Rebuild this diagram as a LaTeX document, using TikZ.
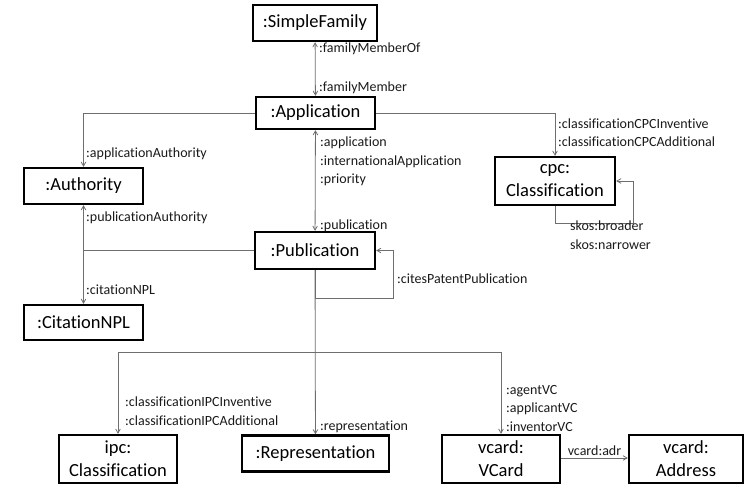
\documentclass[tikz,border=0pt]{standalone}
\usepackage{fontspec}
\setmainfont{Carlito}[RawFeature=-liga]
\usetikzlibrary{positioning}
\usetikzlibrary{arrows}
\definecolor{line-grey}{HTML}{6E6E6E}
\definecolor{text-grey}{HTML}{1A1A1A}
\tikzset{
  class-node/.style={draw, line width=2.4pt, align=center, inner sep=2pt,
    font=\fontsize{18.5}{23}\selectfont},
  property-path/.style={draw=line-grey, line width=0.8pt, >=angle 60},
  property-label/.style={anchor=west, align=left, inner sep=0pt, text=text-grey,
    font=\fontsize{14}{18.5}\selectfont},
}
\begin{document}
\begin{tikzpicture}[x=1pt, y=-1pt]
\useasboundingbox (0,0) rectangle (744,492);
% classes
\node[class-node, minimum width=124pt, minimum height=36pt] (family) at (315,23) {:SimpleFamily};
\node[class-node, minimum width=119pt, minimum height=32pt] (application) at (315.5,113) {:Application};
\node[class-node, minimum width=119pt, minimum height=36pt] (authority) at (83.5,186) {:Authority};
\node[class-node, minimum width=120pt, minimum height=37pt] (publication) at (315,250.5) {:Publication};
\node[class-node, minimum width=119pt, minimum height=35pt] (citation) at (83.5,322.5) {:CitationNPL};
\node[class-node, minimum width=120pt, minimum height=48pt] (cpc) at (555,181) {cpc:\\Classification};
\node[class-node, minimum width=118pt, minimum height=48pt] (ipc) at (118,459) {ipc:\\Classification};
\node[class-node, minimum width=147pt, minimum height=36pt] (representation) at (315.5,453.5) {:Representation};
\node[class-node, minimum width=118pt, minimum height=48pt] (vcard) at (501,459) {vcard:\\VCard};
\node[class-node, minimum width=114pt, minimum height=48pt] (address) at (686,459) {vcard:\\Address};
\coordinate (split) at (315,352);
% properties
\draw[property-path, <->] (family) -- (application);
\draw[property-path, ->] (application.west) -| (authority.north);
\draw[property-path, ->] (publication.west) -| (authority.south);
\draw[property-path, ->] (publication.west) -| (citation.north);
\draw[property-path, <->] (application) -- (publication);
\draw[property-path, ->] (application.east) -| (cpc.north);
\draw[property-path, ->] (cpc.south) -- ++(0,17) -- ++(78,0) |- (cpc.east);
\draw[property-path, ->] (publication.south) -- ++(0,28) -- ++(78,0) |- (publication.east);
\draw[property-path, ->] (publication) -- (representation);
\draw[property-path, ->] (split) -| (ipc.north);
\draw[property-path, ->] (split) -| (vcard.north);
\draw[property-path, ->] (vcard.east |- 0,458) -- (address.west |- 0,458)
  node[midway, above=-1pt, font=\fontsize{14}{16}\selectfont, text=text-grey] (adrlabel) {vcard:adr};
% labels
\node[property-label] (memberof) at (319,49) {:familyMemberOf};
\node[property-label] (member) at (319,88) {:familyMember};
\node[property-label] (appauth) at (86,154) {:applicationAuthority};
\node[property-label] (pubauth) at (86,218) {:publicationAuthority};
\node[property-label] (citnpl) at (86,290) {:citationNPL};
\node[property-label] (appl) at (320,161.5) {:application\\:internationalApplication\\:priority};
\node[property-label] (publ) at (320,226) {:publication};
\node[property-label] (cpcprop) at (558,132.5) {:classificationCPCInventive\\:classificationCPCAdditional};
\node[property-label] (skos) at (570,235) {skos:broader\\skos:narrower};
\node[property-label] (cites) at (397,279) {:citesPatentPublication};
\node[property-label] (ipcprop) at (125,411) {:classificationIPCInventive\\:classificationIPCAdditional};
\node[property-label] (repr) at (320,427) {:representation};
\node[property-label] (agents) at (506,408.5) {:agentVC\\:applicantVC\\:inventorVC};
\end{tikzpicture}
\end{document}
